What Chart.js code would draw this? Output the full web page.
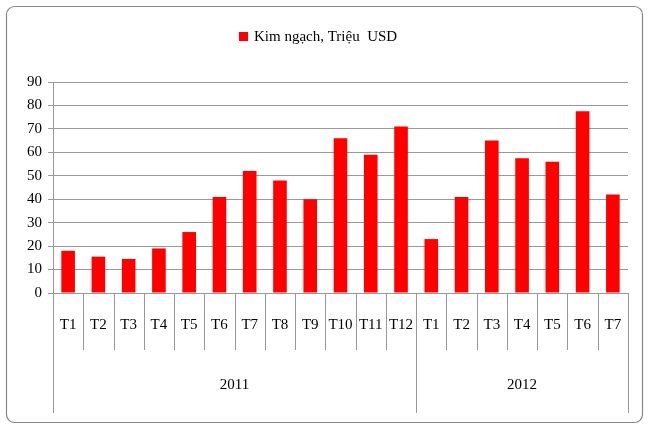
<!DOCTYPE html>
<html><head><meta charset="utf-8">
<script src="https://cdn.jsdelivr.net/npm/chart.js@4"></script>
<style>body{margin:0;background:#fff}#w{width:650px;height:430px;position:relative}</style>
</head><body><div id="w"><canvas id="c" width="650" height="430"></canvas></div>
<script>
const months = ["T1","T2","T3","T4","T5","T6","T7","T8","T9","T10","T11","T12","T1","T2","T3","T4","T5","T6","T7"];
const years = ["2011","2012"];
const yearCounts = [12,7];
const values = [18,15.5,14.5,19,26,41,52,48,40,66,59,71,23,41,65,57.5,56,77.5,42];
const seriesName = "Kim ngạch, Triệu  USD";
const FONT = "'Liberation Serif','Times New Roman',serif";
const custom = {
  id:'custom',
  afterDraw(chart){
    const ctx = chart.ctx, x = chart.scales.x, a = chart.chartArea;
    ctx.save();
    ctx.strokeStyle='#888';ctx.lineWidth=1.2;
    ctx.beginPath();ctx.roundRect(6.5,6.5,636,416,8);ctx.stroke();
    ctx.fillStyle='#ff0000';ctx.fillRect(239,32,9,9);
    ctx.fillStyle='#000';ctx.font="15px "+FONT;ctx.textBaseline='middle';ctx.textAlign='left';
    ctx.fillText(seriesName,254,37);
    const half = (x.getPixelForValue(1)-x.getPixelForValue(0))/2;
    ctx.strokeStyle='#999';ctx.lineWidth=1;
    ctx.textAlign='center';
    let idx=0; const bounds=[0];
    yearCounts.forEach(c=>{idx+=c;bounds.push(idx);});
    for(let i=0;i<=months.length;i++){
      const px=Math.round((i<months.length?x.getPixelForValue(i)-half:x.getPixelForValue(i-1)+half))+0.5;
      const big=bounds.includes(i);
      ctx.beginPath();ctx.moveTo(px,a.bottom);ctx.lineTo(px,big?413:350);ctx.stroke();
    }
    ctx.font="15px "+FONT;
    months.forEach((m,i)=>ctx.fillText(m,x.getPixelForValue(i),325));
    years.forEach((yv,k)=>{
      const l=x.getPixelForValue(bounds[k])-half, r=x.getPixelForValue(bounds[k+1]-1)+half;
      ctx.fillText(yv,(l+r)/2,385);
    });
    ctx.restore();
  }
};
new Chart(document.getElementById('c'),{
  type:'bar',
  data:{labels:months,datasets:[{label:seriesName,data:values,backgroundColor:'#ff0000',barPercentage:0.45,categoryPercentage:1}]},
  options:{responsive:false,animation:false,
    layout:{padding:{left:10,right:22,top:82,bottom:129}},
    plugins:{legend:{display:false},tooltip:{enabled:false}},
    scales:{
      x:{ticks:{display:false},grid:{display:false},border:{color:'#999'}},
      y:{min:0,max:90,afterFit(s){s.width=43;},
        ticks:{stepSize:10,color:'#000',font:{family:FONT,size:15},padding:6},
        grid:{color:'#999',drawTicks:true,tickLength:5},border:{color:'#999'}}
    }
  },
  plugins:[custom]
});
</script></body></html>
